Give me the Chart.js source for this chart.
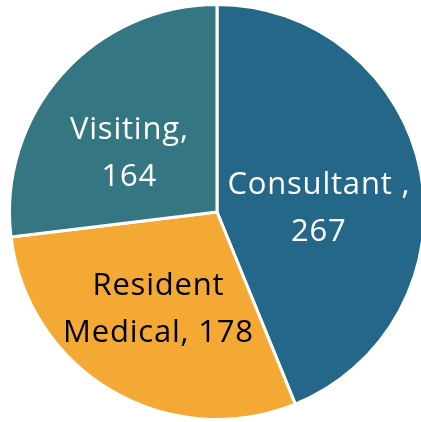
<!DOCTYPE html>
<html>
<head>
<meta charset="utf-8">
<script src="https://cdn.jsdelivr.net/npm/chart.js@4"></script>
<style>
  html, body { margin: 0; padding: 0; background: #fff; overflow: hidden; }
  #wrap { position: relative; width: 430px; height: 422px; }
</style>
</head>
<body>
<div id="wrap"><canvas id="staffPie"></canvas></div>
<script>
const categories = ["Consultant ", "Resident Medical", "Visiting"];
const staffCounts = [267, 178, 164];
const sliceColors = ["#256789", "#f4a935", "#347782"];
const labelColors = ["#ffffff", "#000000", "#ffffff"];

// wraps "Name, value" into lines no wider than maxWidth
function wrapText(ctx, text, maxWidth) {
  const words = text.split(" ");
  const lines = [];
  let line = "";
  words.forEach(w => {
    const test = line ? line + " " + w : w;
    if (line && ctx.measureText(test).width > maxWidth) {
      lines.push(line);
      line = w;
    } else {
      line = test;
    }
  });
  if (line) lines.push(line);
  return lines;
}

const sliceLabels = {
  id: "sliceLabels",
  afterDatasetsDraw(chart, args, opts) {
    const ctx = chart.ctx;
    const meta = chart.getDatasetMeta(0);
    ctx.save();
    ctx.font = opts.font;
    ctx.letterSpacing = opts.letterSpacing;
    ctx.textAlign = "center";
    ctx.textBaseline = "middle";
    meta.data.forEach((arc, i) => {
      const pos = arc.tooltipPosition();
      const text = chart.data.labels[i] + ", " + chart.data.datasets[0].data[i];
      const lines = wrapText(ctx, text, opts.wrapWidth[i]);
      const x = pos.x + opts.offsets[i][0];
      const y = pos.y + opts.offsets[i][1];
      const top = y - (lines.length - 1) * opts.lineHeight / 2;
      ctx.fillStyle = labelColors[i];
      lines.forEach((ln, k) => ctx.fillText(ln, x, top + k * opts.lineHeight));
    });
    ctx.restore();
  }
};

new Chart(document.getElementById("staffPie"), {
  type: "pie",
  data: {
    labels: categories,
    datasets: [{
      data: staffCounts,
      backgroundColor: sliceColors,
      borderColor: "#ffffff",
      borderWidth: 3,
      hoverOffset: 0
    }]
  },
  options: {
    responsive: true,
    maintainAspectRatio: false,
    animation: false,
    layout: { padding: { left: 8, right: 4, top: 3, bottom: 1 } },
    plugins: {
      legend: { display: false },
      tooltip: { enabled: false },
      sliceLabels: {
        font: "31px 'Open Sans', sans-serif",
        letterSpacing: "0.8px",
        lineHeight: 47,
        wrapWidth: [240, 240, 170],
        offsets: [[0, 17], [-6, 8], [-10, 10]]
      }
    }
  },
  plugins: [sliceLabels]
});
</script>
</body>
</html>
